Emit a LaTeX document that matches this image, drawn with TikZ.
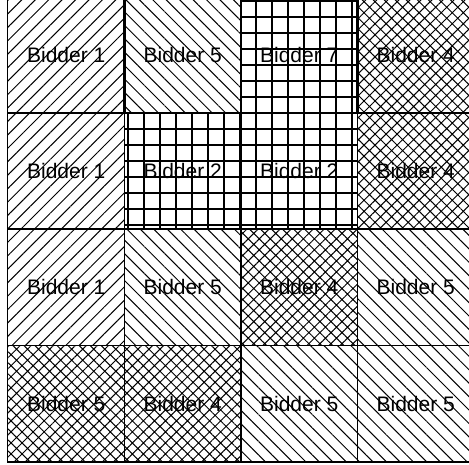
\documentclass[tikz,border=0pt]{standalone}
\usepackage{fontspec}
\setmainfont{Liberation Sans}
\usetikzlibrary{patterns.meta}
\begin{document}
\begin{tikzpicture}[x=1pt,y=1pt,
  cell/.style={minimum width=116.5pt,minimum height=116.3pt,inner sep=0pt,font=\fontsize{21}{25}\selectfont},
  border/.style={draw=black,line width=1.3pt},
  fwd/.style={cell,pattern={Lines[angle=45,distance=9.5pt,line width=1pt]}},
  bwd/.style={cell,pattern={Lines[angle=-45,distance=9.5pt,line width=1pt]}},
  sq/.style={cell,pattern={Hatch[angle=0,distance=16pt,line width=1.5pt]}},
  xh/.style={cell,pattern={Hatch[angle=45,distance=7.8pt,line width=1pt]}}]
\useasboundingbox (0,0) rectangle (469,-465);
\node[fwd] (c11) at (66.25,-54.65) {Bidder 1};
\node[bwd] (c12) at (182.75,-54.65) {Bidder 5};
\node[sq]  (c13) at (299.25,-54.65) {Bidder 7};
\node[xh]  (c14) at (415.75,-54.65) {Bidder 4};
\node[fwd] (c21) at (66.25,-170.95) {Bidder 1};
\node[sq]  (c22) at (182.75,-170.95) {Bidder 2};
\node[sq]  (c23) at (299.25,-170.95) {Bidder 2};
\node[xh]  (c24) at (415.75,-170.95) {Bidder 4};
\node[fwd] (c31) at (66.25,-287.25) {Bidder 1};
\node[bwd] (c32) at (182.75,-287.25) {Bidder 5};
\node[xh]  (c33) at (299.25,-287.25) {Bidder 4};
\node[bwd] (c34) at (415.75,-287.25) {Bidder 5};
\node[xh]  (c41) at (66.25,-403.55) {Bidder 5};
\node[xh]  (c42) at (182.75,-403.55) {Bidder 4};
\node[bwd] (c43) at (299.25,-403.55) {Bidder 5};
\node[bwd] (c44) at (415.75,-403.55) {Bidder 5};
\foreach \n in {c11,c12,c13,c14,c21,c22,c23,c24,c31,c32,c33,c34,c41,c42,c43,c44}
  \draw[border] (\n.north west) rectangle (\n.south east);
\end{tikzpicture}
\end{document}
